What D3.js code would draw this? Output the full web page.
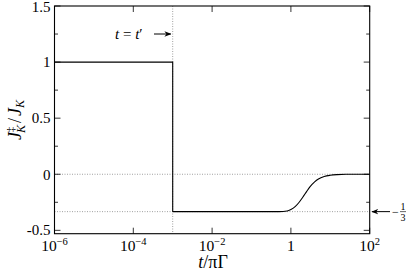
<!DOCTYPE html>
<html>
<head>
<meta charset="utf-8">
<script src="https://cdn.jsdelivr.net/npm/d3@7"></script>
<style>
  body { margin: 0; background: #fff; }
  svg text { font-family: "Liberation Serif", "Times New Roman", "DejaVu Serif", serif; fill: #000; }
</style>
</head>
<body>
<svg id="drawing_region"></svg>
<script>
// step part: J before and right after t = t'
const stepT   = [1e-6, 1e-3, 1e-3];
const stepJ   = [1, 1, -1 / 3];
// relaxation tail after the quench
const tailT   = [1e-3, 0.1, 0.5, 0.8, 1.0, 1.3, 1.6, 2.0, 2.5, 3.0, 4.0, 5.0, 7.0, 10, 15, 25, 100];
const tailJ   = [-1/3, -1/3, -0.333, -0.328, -0.315, -0.287, -0.252, -0.205, -0.155, -0.115, -0.068, -0.042, -0.02, -0.009, -0.003, 0, 0];
const tPrime  = 1e-3;
const refLevels = [0, -1 / 3];
const xTickExp = [-6, -4, -2, 0, 2];
const yMajor = [-0.5, 0, 0.5, 1, 1.5];
const yMinor = [-0.25, 0.25, 0.75, 1.25];

const width = 410, height = 273;
const margin = { top: 6, right: 40.3, bottom: 39.3, left: 54.5 };
const innerW = width - margin.left - margin.right;
const innerH = height - margin.top - margin.bottom;

const svg = d3.select('#drawing_region')
    .attr('width', width)
    .attr('height', height);

const chart = svg.append('g')
    .attr('transform', `translate(${margin.left}, ${margin.top})`);

const xscale = d3.scaleLog().domain([1e-6, 1e2]).range([0, innerW]);
const yscale = d3.scaleLinear().domain([-0.53, 1.5]).range([innerH, 0]);

// dotted reference lines
chart.selectAll('.ref')
    .data(refLevels)
    .join('line')
    .attr('x1', 0).attr('x2', innerW)
    .attr('y1', d => yscale(d)).attr('y2', d => yscale(d))
    .attr('stroke', '#888').attr('stroke-width', 0.8)
    .attr('stroke-dasharray', '1,1.5');

chart.append('line')
    .attr('x1', xscale(tPrime)).attr('x2', xscale(tPrime))
    .attr('y1', 0).attr('y2', innerH)
    .attr('stroke', '#888').attr('stroke-width', 0.8)
    .attr('stroke-dasharray', '1,1.5');

// ticks (inward, mirrored)
const xmaj = xTickExp.map(e => Math.pow(10, e));
const tickLen = 6, minorLen = 3.5;
const tk = chart.append('g').attr('stroke', '#000').attr('stroke-width', 0.8);
xmaj.forEach(v => {
    const x = xscale(v);
    tk.append('line').attr('x1', x).attr('x2', x).attr('y1', innerH).attr('y2', innerH - tickLen);
    tk.append('line').attr('x1', x).attr('x2', x).attr('y1', 0).attr('y2', tickLen);
});
yMajor.forEach(v => {
    const y = yscale(v);
    tk.append('line').attr('x1', 0).attr('x2', tickLen).attr('y1', y).attr('y2', y);
    tk.append('line').attr('x1', innerW).attr('x2', innerW - tickLen).attr('y1', y).attr('y2', y);
});
yMinor.forEach(v => {
    const y = yscale(v);
    tk.append('line').attr('x1', 0).attr('x2', minorLen).attr('y1', y).attr('y2', y);
    tk.append('line').attr('x1', innerW).attr('x2', innerW - minorLen).attr('y1', y).attr('y2', y);
});

// curve
const line = d3.line().x(d => xscale(d[0])).y(d => yscale(d[1]));
chart.append('path')
    .datum(d3.zip(stepT, stepJ))
    .attr('d', line)
    .attr('fill', 'none').attr('stroke', '#000').attr('stroke-width', 1.1);
chart.append('path')
    .datum(d3.zip(tailT, tailJ))
    .attr('d', line.curve(d3.curveMonotoneX))
    .attr('fill', 'none').attr('stroke', '#000').attr('stroke-width', 1.1);

// frame
chart.append('rect')
    .attr('width', innerW).attr('height', innerH)
    .attr('fill', 'none').attr('stroke', '#000').attr('stroke-width', 1.1);

// y tick labels
chart.selectAll('.ylab')
    .data(yMajor)
    .join('text')
    .attr('x', -4).attr('y', d => yscale(d) + (d === 1.5 ? 1 : d === -0.5 ? -1 : 0))
    .attr('dy', '0.35em')
    .attr('text-anchor', 'end')
    .attr('font-size', 15)
    .text(d => String(d));

// x tick labels
xTickExp.forEach(e => {
    const t = chart.append('text')
        .attr('x', xscale(Math.pow(10, e)))
        .attr('y', innerH + 17)
        .attr('text-anchor', 'middle')
        .attr('font-size', 15.5);
    if (e === 0) { t.text('1'); return; }
    t.append('tspan').text('10');
    t.append('tspan').attr('dy', -5.5).attr('font-size', 10.5).text(e < 0 ? '−' + (-e) : String(e));
});

// axis titles
const xt = svg.append('text')
    .attr('x', margin.left + innerW / 2 + 1).attr('y', 268)
    .attr('text-anchor', 'middle').attr('font-size', 18);
xt.append('tspan').attr('font-style', 'italic').text('t');
xt.append('tspan').text('/π');
xt.append('tspan').text('Γ');

const yt = svg.append('text')
    .attr('transform', `translate(21, ${120}) rotate(-90)`)
    .attr('text-anchor', 'middle').attr('font-size', 18);
yt.append('tspan').attr('font-style', 'italic').text('J');
yt.append('tspan').attr('font-size', 10).attr('dy', -7).attr('dx', 0).text('‡');
yt.append('tspan').attr('font-size', 12).attr('font-style', 'italic').attr('dy', 11).attr('dx', -6).text('K');
yt.append('tspan').attr('dy', -4).attr('dx', 2).text('/');
yt.append('tspan').attr('font-style', 'italic').attr('dx', 2).text('J');
yt.append('tspan').attr('font-size', 12).attr('font-style', 'italic').attr('dy', 3).text('K');

// annotations
svg.append('defs').append('marker')
    .attr('id', 'arr').attr('viewBox', '0 0 10 10')
    .attr('refX', 9).attr('refY', 5)
    .attr('markerWidth', 7).attr('markerHeight', 7)
    .attr('orient', 'auto-start-reverse')
    .append('path').attr('d', 'M0,1 L10,5 L0,9 L3,5 Z').attr('fill', '#000');

const ann = svg.append('text').attr('x', 115).attr('y', 39).attr('font-size', 15);
ann.append('tspan').attr('font-style', 'italic').text('t');
ann.append('tspan').text(' = ');
ann.append('tspan').attr('font-style', 'italic').text('t');
ann.append('tspan').text('′');
svg.append('line')
    .attr('x1', 154).attr('x2', margin.left + xscale(tPrime) - 2)
    .attr('y1', 34).attr('y2', 34)
    .attr('stroke', '#000').attr('stroke-width', 1)
    .attr('marker-end', 'url(#arr)');

const yThird = margin.top + yscale(-1 / 3);
svg.append('line')
    .attr('x1', 390).attr('x2', 372)
    .attr('y1', yThird).attr('y2', yThird)
    .attr('stroke', '#000').attr('stroke-width', 1)
    .attr('marker-end', 'url(#arr)');
svg.append('text').attr('x', 392).attr('y', yThird + 4).attr('font-size', 12).text('−');
svg.append('text').attr('x', 400.5).attr('y', yThird - 2).attr('font-size', 10).text('1');
svg.append('line').attr('x1', 400).attr('x2', 406).attr('y1', yThird).attr('y2', yThird)
    .attr('stroke', '#000').attr('stroke-width', 0.6);
svg.append('text').attr('x', 400.5).attr('y', yThird + 9).attr('font-size', 10).text('3');
</script>
</body>
</html>
